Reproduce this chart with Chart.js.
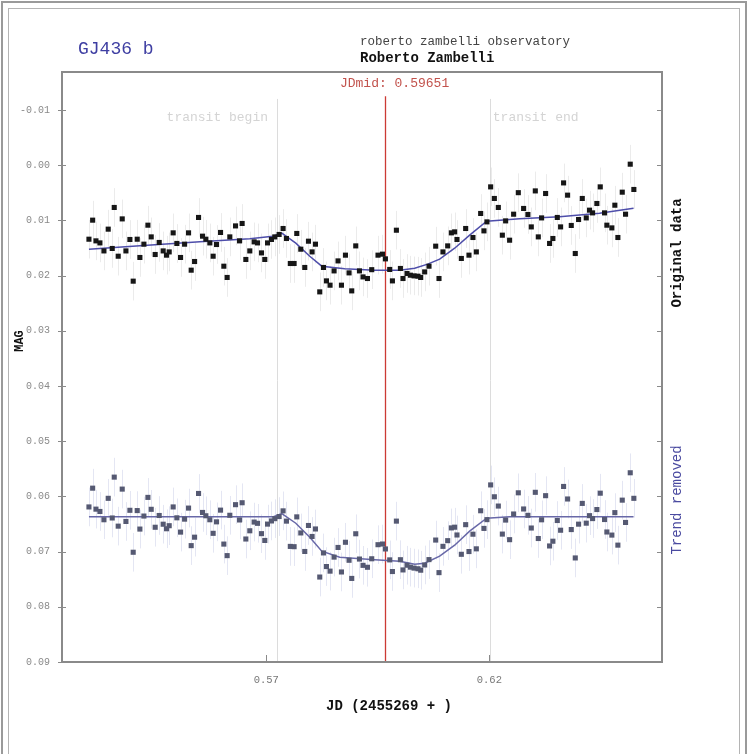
<!DOCTYPE html>
<html>
<head>
<meta charset="utf-8">
<title>GJ436 b</title>
<script src="https://cdn.jsdelivr.net/npm/chart.js@4.4.1/dist/chart.umd.min.js"></script>
<style>
  html, body { margin: 0; padding: 0; background: #fff; }
  canvas { display: block; }
</style>
</head>
<body>
<canvas id="lc" width="748" height="754"></canvas>
<script>
// ===== Data =====
const jd = [
  0.53024, 0.53107, 0.53181, 0.53270, 0.53360, 0.53456, 0.53546, 0.53591, 0.53680, 0.53770,
  0.53853, 0.53942, 0.54016, 0.54106, 0.54166, 0.54256, 0.54346, 0.54420, 0.54509, 0.54599,
  0.54688, 0.54764, 0.54823, 0.54912, 0.54995, 0.55078, 0.55168, 0.55257, 0.55316, 0.55392,
  0.55481, 0.55571, 0.55645, 0.55734, 0.55808, 0.55884, 0.55974, 0.56048, 0.56122, 0.56182,
  0.56310, 0.56400, 0.56458, 0.56541, 0.56630, 0.56727, 0.56803, 0.56892, 0.56966, 0.57027,
  0.57116, 0.57190, 0.57287, 0.57376, 0.57452, 0.57538, 0.57623, 0.57683, 0.57773, 0.57862,
  0.57945, 0.58026, 0.58102, 0.58198, 0.58281, 0.58348, 0.58429, 0.58519, 0.58608, 0.58684,
  0.58774, 0.58855, 0.58915, 0.59005, 0.59088, 0.59168, 0.59267, 0.59363, 0.59504, 0.59603,
  0.59670, 0.59766, 0.59827, 0.59916, 0.60006, 0.60064, 0.60154, 0.60230, 0.60311, 0.60400,
  0.60461, 0.60550, 0.60647, 0.60797, 0.60871, 0.60960, 0.61066, 0.61148, 0.61222, 0.61274,
  0.61372, 0.61469, 0.61543, 0.61632, 0.61708, 0.61805, 0.61879, 0.61946, 0.62029, 0.62112,
  0.62201, 0.62291, 0.62365, 0.62454, 0.62544, 0.62649, 0.62768, 0.62864, 0.62940, 0.63030,
  0.63097, 0.63171, 0.63261, 0.63350, 0.63424, 0.63523, 0.63597, 0.63664, 0.63754, 0.63836,
  0.63926, 0.64000, 0.64083, 0.64172, 0.64246, 0.64314, 0.64410, 0.64486, 0.64582, 0.64634,
  0.64746, 0.64813, 0.64881, 0.64979, 0.65053, 0.65158, 0.65239
];

const magOriginal = [
  0.01341, 0.00996, 0.01371, 0.01408, 0.01553, 0.01159, 0.01509, 0.00766, 0.01649, 0.00973,
  0.01553, 0.01346, 0.02101, 0.01341, 0.01672, 0.01431, 0.01087, 0.01299, 0.01618, 0.01400,
  0.01553, 0.01630, 0.01571, 0.01226, 0.01418, 0.01672, 0.01431, 0.01226, 0.01902, 0.01745,
  0.00947, 0.01286, 0.01341, 0.01408, 0.01649, 0.01437, 0.01219, 0.01830, 0.02034, 0.01299,
  0.01100, 0.01371, 0.01056, 0.01708, 0.01553, 0.01389, 0.01408, 0.01589, 0.01708, 0.01408,
  0.01346, 0.01299, 0.01255, 0.01147, 0.01328, 0.01781, 0.01781, 0.01237, 0.01522, 0.01853,
  0.01377, 0.01571, 0.01431, 0.02295, 0.01853, 0.02096, 0.02174, 0.01915, 0.01734, 0.02174,
  0.01630, 0.01951, 0.02277, 0.01462, 0.01915, 0.02024, 0.02053, 0.01893, 0.01630, 0.01612,
  0.01697, 0.01889, 0.02096, 0.01178, 0.01871, 0.02053, 0.01962, 0.01993, 0.02005, 0.02011,
  0.02034, 0.01933, 0.01830, 0.01467, 0.02053, 0.01571, 0.01462, 0.01226, 0.01208, 0.01346,
  0.01690, 0.01147, 0.01630, 0.01310, 0.01571, 0.00875, 0.01190, 0.01027, 0.00393, 0.00603,
  0.00766, 0.01268, 0.01009, 0.01359, 0.00888, 0.00498, 0.00784, 0.00893, 0.01118, 0.00466,
  0.01299, 0.00955, 0.00513, 0.01418, 0.01328, 0.00947, 0.01118, 0.00321, 0.00543, 0.01092,
  0.01600, 0.00984, 0.00603, 0.00955, 0.00815, 0.00864, 0.00694, 0.00393, 0.00864, 0.01087,
  0.01136, 0.00725, 0.01310, 0.00489, 0.00888, -0.00018, 0.00440
];

const magDetrended = [
  0.06191, 0.05851, 0.06231, 0.06273, 0.06423, 0.06035, 0.06391, 0.05651, 0.06539, 0.05868,
  0.06454, 0.06252, 0.07012, 0.06257, 0.06592, 0.06356, 0.06018, 0.06234, 0.06559, 0.06346,
  0.06504, 0.06586, 0.06531, 0.06191, 0.06388, 0.06647, 0.06412, 0.06212, 0.06892, 0.06739,
  0.05947, 0.06291, 0.06351, 0.06423, 0.06669, 0.06461, 0.06249, 0.06864, 0.07073, 0.06342,
  0.06150, 0.06427, 0.06115, 0.06772, 0.06623, 0.06465, 0.06488, 0.06675, 0.06798, 0.06502,
  0.06445, 0.06403, 0.06365, 0.06262, 0.06448, 0.06906, 0.06911, 0.06371, 0.06662, 0.06998,
  0.06527, 0.06726, 0.06590, 0.07461, 0.07024, 0.07271, 0.07354, 0.07100, 0.06925, 0.07369,
  0.06831, 0.07157, 0.07486, 0.06677, 0.07135, 0.07249, 0.07284, 0.07130, 0.06875, 0.06863,
  0.06952, 0.07150, 0.07361, 0.06448, 0.07147, 0.07332, 0.07247, 0.07282, 0.07299, 0.07311,
  0.07337, 0.07242, 0.07145, 0.06791, 0.07381, 0.06905, 0.06802, 0.06571, 0.06558, 0.06699,
  0.07049, 0.06512, 0.06999, 0.06685, 0.06950, 0.06260, 0.06580, 0.06421, 0.05792, 0.06007,
  0.06175, 0.06683, 0.06429, 0.06784, 0.06319, 0.05935, 0.06228, 0.06343, 0.06573, 0.05926,
  0.06763, 0.06424, 0.05987, 0.06898, 0.06812, 0.06437, 0.06613, 0.05820, 0.06047, 0.06601,
  0.07115, 0.06503, 0.06127, 0.06485, 0.06349, 0.06402, 0.06238, 0.05942, 0.06419, 0.06645,
  0.06701, 0.06294, 0.06883, 0.06068, 0.06472, 0.05572, 0.06035
];

// smoothed trend curves
const trendJd = [0.53024, 0.54166, 0.55510, 0.56630, 0.57146, 0.57347, 0.57661, 0.57974, 0.58243, 0.58758, 0.59430,
  0.59990, 0.60326, 0.60617, 0.60886, 0.61222, 0.61558, 0.61939, 0.62678, 0.63574, 0.64470, 0.65232];
const trendOriginal = [0.01522, 0.01458, 0.01386, 0.01332, 0.01286, 0.01232, 0.01413, 0.01649, 0.01830, 0.01875, 0.01902,
  0.01902, 0.01866, 0.01793, 0.01703, 0.01504, 0.01268, 0.01014, 0.00969, 0.00933, 0.00870, 0.00779];
const trendDetrJd = [0.53024, 0.57146, 0.57347, 0.57661, 0.57974, 0.58243, 0.58646, 0.59430, 0.59990, 0.60326, 0.60550,
  0.60886, 0.61222, 0.61558, 0.61939, 0.62454, 0.65232];
const trendDetrended = [0.06371, 0.06371, 0.06313, 0.06486, 0.06739, 0.06993, 0.07101, 0.07147, 0.07174, 0.07228, 0.07210,
  0.07083, 0.06884, 0.06630, 0.06395, 0.06371, 0.06371];

const xTickValues = [0.57, 0.62];
const jdMid = 0.59651;
const transitBegin = 0.5724;
const transitEnd = 0.6201;
const magError = 0.0035;

const MONO = '"Liberation Mono", "DejaVu Sans Mono", monospace';
Chart.defaults.font.family = MONO;

const toPoints = (xs, ys) => xs.map((x, i) => ({ x: x, y: ys[i] }));

// ===== Plugins =====
const pageFrame = {
  id: 'pageFrame',
  beforeDraw(chart) {
    const c = chart.ctx;
    c.save();
    c.fillStyle = '#fff';
    c.fillRect(0, 0, chart.width, chart.height);
    c.strokeStyle = '#9a9a9a';
    c.lineWidth = 2;
    c.strokeRect(2, 2, 744, 790);
    c.lineWidth = 1;
    c.strokeStyle = '#b4b4b4';
    c.strokeRect(8.5, 8.5, 731, 790);
    c.restore();
  }
};

const markers = {
  id: 'markers',
  beforeDatasetsDraw(chart) {
    const { ctx, chartArea: a, scales: { x, y } } = chart;
    ctx.save();
    // error bars
    chart.data.datasets.forEach(ds => {
      if (!ds.errColor) return;
      ctx.strokeStyle = ds.errColor;
      ctx.lineWidth = 1;
      ctx.beginPath();
      ds.data.forEach(p => {
        const px = Math.round(x.getPixelForValue(p.x)) + 0.5;
        ctx.moveTo(px, y.getPixelForValue(p.y - magError));
        ctx.lineTo(px, y.getPixelForValue(p.y + magError));
      });
      ctx.stroke();
    });
    // transit begin / end and mid-time
    const top = y.getPixelForValue(-0.012);
    ctx.lineWidth = 1;
    ctx.strokeStyle = '#dcdcdc';
    [transitBegin, transitEnd].forEach(v => {
      const px = Math.round(x.getPixelForValue(v)) + 0.5;
      ctx.beginPath();
      ctx.moveTo(px, top);
      ctx.lineTo(px, a.bottom);
      ctx.stroke();
    });
    ctx.strokeStyle = '#cc3a34';
    ctx.lineWidth = 1.3;
    const pm = Math.round(x.getPixelForValue(jdMid)) + 0.5;
    ctx.beginPath();
    ctx.moveTo(pm, y.getPixelForValue(-0.0125));
    ctx.lineTo(pm, a.bottom);
    ctx.stroke();
    ctx.restore();
  }
};

const frame = {
  id: 'frame',
  afterDatasetsDraw(chart) {
    const { ctx, chartArea: a, scales: { x, y } } = chart;
    ctx.save();
    ctx.strokeStyle = '#8a8a8a';
    ctx.lineWidth = 2;
    ctx.strokeRect(a.left, a.top, a.right - a.left, a.bottom - a.top);
    ctx.lineWidth = 1;
    ctx.beginPath();
    y.ticks.forEach(t => {
      const py = Math.round(y.getPixelForValue(t.value)) + 0.5;
      ctx.moveTo(a.left - 4, py); ctx.lineTo(a.left + 4, py);
      ctx.moveTo(a.right - 5, py); ctx.lineTo(a.right, py);
    });
    x.ticks.forEach(t => {
      const px = Math.round(x.getPixelForValue(t.value)) + 0.5;
      ctx.moveTo(px, a.bottom); ctx.lineTo(px, a.bottom - 7);
    });
    ctx.stroke();
    ctx.restore();
  }
};

function vText(ctx, text, cx, cy, font, color) {
  ctx.save();
  ctx.translate(cx, cy);
  ctx.rotate(-Math.PI / 2);
  ctx.font = font;
  ctx.fillStyle = color;
  ctx.textAlign = 'center';
  ctx.textBaseline = 'middle';
  ctx.fillText(text, 0, 0);
  ctx.restore();
}

const labels = {
  id: 'labels',
  afterDraw(chart) {
    const { ctx, scales: { x } } = chart;
    ctx.save();
    ctx.textBaseline = 'middle';
    ctx.textAlign = 'left';
    ctx.fillStyle = '#3e3ea2';
    ctx.font = '18px ' + MONO;
    ctx.fillText('GJ436 b', 78, 49);
    ctx.fillStyle = '#444';
    ctx.font = '12.5px ' + MONO;
    ctx.fillText('roberto zambelli observatory', 360, 42);
    ctx.fillStyle = '#111';
    ctx.font = 'bold 14px ' + MONO;
    ctx.fillText('Roberto Zambelli', 360, 58);

    ctx.textAlign = 'center';
    ctx.fillStyle = '#c2524c';
    ctx.font = '13px ' + MONO;
    ctx.fillText('JDmid: ' + jdMid.toFixed(5), x.getPixelForValue(jdMid) + 10, 84);

    ctx.fillStyle = '#d4d4d4';
    ctx.textAlign = 'right';
    ctx.fillText('transit begin', x.getPixelForValue(transitBegin) - 9, 118);
    ctx.textAlign = 'left';
    ctx.fillText('transit end', x.getPixelForValue(transitEnd) + 3, 118);

    ctx.textAlign = 'center';
    ctx.fillStyle = '#111';
    ctx.font = 'bold 14px ' + MONO;
    ctx.fillText('JD (2455269 + )', 389, 706);
    ctx.restore();

    vText(ctx, 'MAG', 20, 341, 'bold 12px ' + MONO, '#111');
    vText(ctx, 'Original data', 677, 253, 'bold 14px ' + MONO, '#111');
    vText(ctx, 'Trend removed', 677, 500, '14px ' + MONO, '#4a4aa0');
  }
};

// ===== Chart =====
new Chart(document.getElementById('lc'), {
  type: 'scatter',
  data: {
    datasets: [
      {
        label: 'Original data',
        data: toPoints(jd, magOriginal),
        pointStyle: 'rect',
        pointRadius: 3.6,
        borderWidth: 0,
        backgroundColor: '#161616',
        errColor: '#ebebeb',
        order: 1
      },
      {
        label: 'Original trend',
        data: toPoints(trendJd, trendOriginal),
        showLine: true,
        pointRadius: 0,
        borderColor: '#4e4eaa',
        borderWidth: 1.5,
        order: 2
      },
      {
        label: 'Trend removed',
        data: toPoints(jd, magDetrended),
        pointStyle: 'rect',
        pointRadius: 3.6,
        borderWidth: 0,
        backgroundColor: '#555972',
        errColor: '#e4e6f3',
        order: 1
      },
      {
        label: 'Detrended trend',
        data: toPoints(trendDetrJd, trendDetrended),
        showLine: true,
        pointRadius: 0,
        borderColor: '#6868a8',
        borderWidth: 1.5,
        order: 2
      }
    ]
  },
  options: {
    responsive: false,
    animation: false,
    layout: { padding: { left: 0, top: 72, right: 86, bottom: 62 } },
    plugins: {
      legend: { display: false },
      tooltip: { enabled: false }
    },
    scales: {
      x: {
        type: 'linear',
        min: 0.5242,
        max: 0.6587,
        grid: { display: false, drawTicks: false },
        border: { display: false },
        afterBuildTicks: scale => { scale.ticks = xTickValues.map(v => ({ value: v })); },
        afterFit: scale => { scale.height = 30; },
        ticks: {
          autoSkip: false,
          padding: 12,
          color: '#777',
          font: { size: 10.5 },
          callback: v => v.toFixed(2)
        }
      },
      y: {
        reverse: true,
        min: -0.01688,
        max: 0.09,
        grid: { display: false, drawTicks: false },
        border: { display: false },
        afterFit: scale => { scale.width = 62; },
        ticks: {
          stepSize: 0.01,
          includeBounds: false,
          autoSkip: false,
          padding: 12,
          color: '#8a8a8a',
          font: { size: 10 },
          callback: v => Number(v).toFixed(2)
        }
      }
    }
  },
  plugins: [pageFrame, markers, frame, labels]
});
</script>
</body>
</html>
